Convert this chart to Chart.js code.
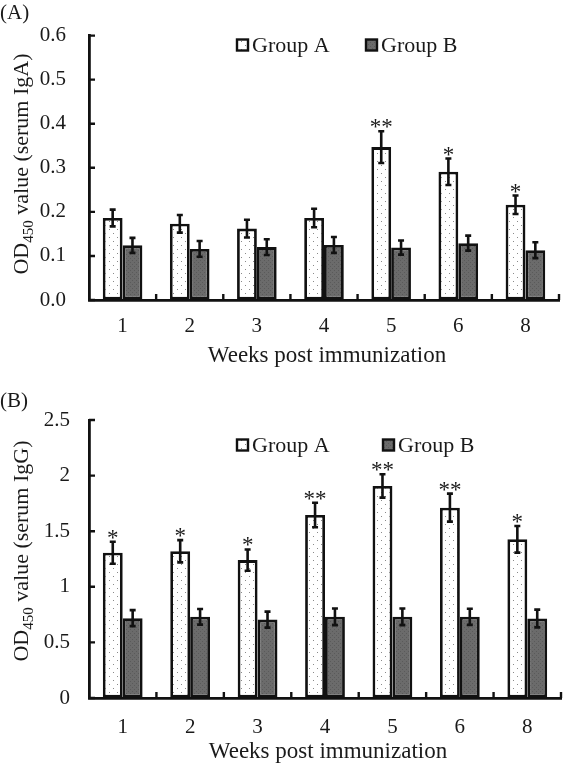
<!DOCTYPE html>
<html>
<head>
<meta charset="utf-8">
<script src="https://cdn.jsdelivr.net/npm/chart.js@4.4.1/dist/chart.umd.min.js"></script>
<style>
    html, body { margin: 0; padding: 0; background: #fff; }
    #wrap { position: relative; width: 566px; height: 767px; }
    canvas { position: absolute; left: 0; }
</style>
</head>
<body>
<div id="wrap">
    <canvas id="chartA" width="566" height="383" style="top:0"></canvas>
    <canvas id="chartB" width="566" height="384" style="top:383px"></canvas>
</div>
<script>
"use strict";

// Data
const weeks = ['1', '2', '3', '4', '5', '6', '8'];
const seriesNames = ['Group A', 'Group B'];

// (A) serum IgA
const igaGroupA = [0.186, 0.173, 0.162, 0.186, 0.347, 0.291, 0.216];
const igaGroupAErr = [0.019, 0.020, 0.020, 0.021, 0.036, 0.030, 0.021];
const igaGroupB = [0.124, 0.116, 0.120, 0.125, 0.119, 0.129, 0.113];
const igaGroupBErr = [0.017, 0.018, 0.018, 0.018, 0.016, 0.017, 0.018];
const igaStars = ['', '', '', '', '**', '*', '*'];

// (B) serum IgG
const iggGroupA = [1.306, 1.320, 1.240, 1.646, 1.907, 1.712, 1.427];
const iggGroupAErr = [0.099, 0.100, 0.096, 0.110, 0.105, 0.126, 0.120];
const iggGroupB = [0.718, 0.730, 0.705, 0.730, 0.730, 0.730, 0.715];
const iggGroupBErr = [0.072, 0.070, 0.072, 0.075, 0.075, 0.072, 0.080];
const iggStars = ['*', '*', '*', '**', '**', '**', '*'];

const SERIF = '"Liberation Serif", "Times New Roman", serif';
const INK = '#1a1a1a';

// Fill patterns: dotted white for Group A, dark grey for Group B
function makePattern(bg, dot, size, dots) {
    const c = document.createElement('canvas');
    c.width = size; c.height = size;
    const g = c.getContext('2d');
    g.fillStyle = bg;
    g.fillRect(0, 0, size, size);
    g.fillStyle = dot;
    dots.forEach(([x, y]) => g.fillRect(x, y, 1, 1));
    return g.createPattern(c, 'repeat');
}
const fillA = makePattern('#ffffff', '#8a8a8a', 8, [[1, 1], [5, 5]]);
const fillB = makePattern('#6b6b6b', '#5a5a5a', 4, [[0, 0], [2, 2]]);

function extrasPlugin(p) {
    return {
        id: 'extras',
        afterDatasetsDraw(chart) {
            const ctx = chart.ctx;
            const ys = chart.scales.y;
            const area = chart.chartArea;
            ctx.save();

            // error bars + significance stars
            p.errors.forEach((errs, di) => {
                const vals = chart.data.datasets[di].data;
                chart.getDatasetMeta(di).data.forEach((bar, i) => {
                    const yTop = ys.getPixelForValue(vals[i] + errs[i]);
                    const yBot = ys.getPixelForValue(vals[i] - errs[i]);
                    ctx.strokeStyle = '#111';
                    ctx.lineWidth = 2.6;
                    ctx.beginPath();
                    ctx.moveTo(bar.x, yTop); ctx.lineTo(bar.x, yBot);
                    ctx.moveTo(bar.x - 3, yTop); ctx.lineTo(bar.x + 3, yTop);
                    ctx.moveTo(bar.x - 3, yBot); ctx.lineTo(bar.x + 3, yBot);
                    ctx.stroke();
                    if (di === 0 && p.stars[i]) {
                        ctx.fillStyle = INK;
                        ctx.font = '23px ' + SERIF;
                        ctx.textAlign = 'center';
                        ctx.textBaseline = 'alphabetic';
                        ctx.fillText(p.stars[i], bar.x, yTop + 3);
                    }
                });
            });

            // inward tick marks
            ctx.strokeStyle = '#111';
            ctx.lineWidth = 2.4;
            ctx.beginPath();
            ys.ticks.forEach(t => {
                const py = ys.getPixelForValue(t.value);
                ctx.moveTo(area.left, py); ctx.lineTo(area.left + 6, py);
            });
            const cw = (area.right - area.left) / weeks.length;
            for (let k = 1; k <= weeks.length; k++) {
                const px = area.left + k * cw;
                ctx.moveTo(px, area.bottom); ctx.lineTo(px, area.bottom - 6);
            }
            ctx.stroke();

            // legend
            ctx.font = '22px ' + SERIF;
            ctx.textAlign = 'left';
            ctx.textBaseline = 'middle';
            p.legendX.forEach((lx, di) => {
                ctx.fillStyle = di === 0 ? fillA : fillB;
                ctx.fillRect(lx, p.legendY - 5.5, 11, 11);
                ctx.lineWidth = 2.4;
                ctx.strokeStyle = '#111';
                ctx.strokeRect(lx, p.legendY - 5.5, 11, 11);
                ctx.fillStyle = INK;
                ctx.fillText(seriesNames[di], lx + 15, p.legendY + 1);
            });

            // panel label
            ctx.font = '21px ' + SERIF;
            ctx.fillText(p.panel, 0, p.panelY);

            // x title
            ctx.textAlign = 'center';
            ctx.font = '23px ' + SERIF;
            ctx.fillText('Weeks post immunization', (area.left + area.right) / 2 + 3, p.xTitleY);

            // y title with subscript
            ctx.translate(p.yTitleX, p.yTitleY);
            ctx.rotate(-Math.PI / 2);
            ctx.textAlign = 'left';
            ctx.textBaseline = 'alphabetic';
            const big = '22px ' + SERIF, small = '15px ' + SERIF;
            const rest = ' value (' + p.yName + ')';
            ctx.font = big;
            const wOD = ctx.measureText('OD').width;
            const wRest = ctx.measureText(rest).width;
            ctx.font = small;
            const wSub = ctx.measureText('450').width;
            let sx = -(wOD + wSub + wRest) / 2;
            ctx.font = big;
            ctx.fillText('OD', sx, 0);
            sx += wOD;
            ctx.font = small;
            ctx.fillText('450', sx, 5);
            sx += wSub;
            ctx.font = big;
            ctx.fillText(rest, sx, 0);

            ctx.restore();
        }
    };
}

function makeChart(id, a, b, p) {
    return new Chart(document.getElementById(id), {
        type: 'bar',
        data: {
            labels: weeks,
            datasets: [
                { label: seriesNames[0], data: a, backgroundColor: fillA },
                { label: seriesNames[1], data: b, backgroundColor: fillB }
            ]
        },
        options: {
            responsive: false,
            animation: false,
            layout: { padding: { top: p.top, right: p.right, left: 0, bottom: 0 } },
            datasets: {
                bar: {
                    borderColor: '#111',
                    borderWidth: 2.8,
                    borderSkipped: false,
                    categoryPercentage: 0.59,
                    barPercentage: 1.0
                }
            },
            plugins: { legend: { display: false }, tooltip: { enabled: false } },
            scales: {
                x: {
                    afterFit: s => { s.height = p.xHeight; },
                    grid: { display: true, drawOnChartArea: false, drawTicks: false },
                    border: { display: true, color: '#111', width: 2.8 },
                    ticks: { color: INK, font: { family: SERIF, size: 21 }, padding: p.xPad }
                },
                y: {
                    min: 0,
                    max: p.yMax,
                    afterFit: s => { s.width = 89; },
                    grid: { display: true, drawOnChartArea: false, drawTicks: false },
                    border: { display: true, color: '#111', width: 2.8 },
                    ticks: {
                        stepSize: p.yStep,
                        color: INK,
                        font: { family: SERIF, size: 21 },
                        padding: p.yPad,
                        callback: p.fmt
                    }
                }
            }
        },
        plugins: [extrasPlugin(p)]
    });
}

makeChart('chartA', igaGroupA, igaGroupB, {
    top: 20, right: 7, xHeight: 83, xPad: 14, yPad: 23,
    yMax: 0.6, yStep: 0.1, fmt: v => v.toFixed(1),
    errors: [igaGroupAErr, igaGroupBErr], stars: igaStars,
    legendX: [237, 366], legendY: 45,
    panel: '(A)', panelY: 13, xTitleY: 356,
    yName: 'serum IgA', yTitleX: 28, yTitleY: 164
});

makeChart('chartB', iggGroupA, iggGroupB, {
    top: 37, right: 5, xHeight: 69, xPad: 17, yPad: 19,
    yMax: 2.5, yStep: 0.5, fmt: v => String(v),
    errors: [iggGroupAErr, iggGroupBErr], stars: iggStars,
    legendX: [237, 383], legendY: 62,
    panel: '(B)', panelY: 18, xTitleY: 369,
    yName: 'serum IgG', yTitleX: 28, yTitleY: 168
});
</script>
</body>
</html>
